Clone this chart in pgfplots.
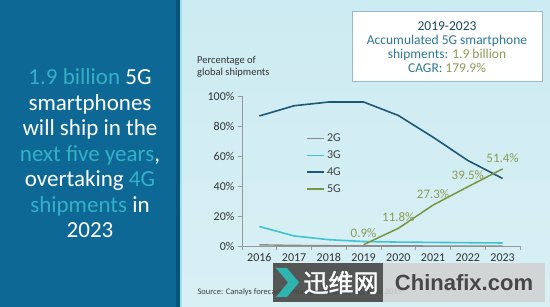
\documentclass[border=0pt]{standalone}
\usepackage{pgfplots}
\pgfplotsset{compat=1.18}
\usepackage{fontspec}
\setmainfont{Carlito}
\newfontfamily\cjk[FakeBold=1.5]{Noto Sans CJK SC}
\newfontfamily\wmfont{Liberation Sans}
\definecolor{panel}{HTML}{0D6896}
\definecolor{hl}{HTML}{34B0C6}
\definecolor{c2g}{HTML}{8C8C8C}
\definecolor{c3g}{HTML}{3FC3D0}
\definecolor{c4g}{HTML}{1E5878}
\definecolor{c5g}{HTML}{7A9444}
\definecolor{lab5}{HTML}{8A9B56}
\definecolor{boxtxt}{HTML}{2E7898}
\definecolor{bgtop}{HTML}{CDEBF2}
\definecolor{bgbot}{HTML}{D8F0F4}
\definecolor{chev}{HTML}{2FB5B0}
\begin{document}
\begin{tikzpicture}[x=1pt,y=1pt]
\useasboundingbox (0,0) rectangle (550,307);
\shade[top color=bgtop, middle color=white, bottom color=bgbot] (180,0) rectangle (550,307);
\fill[panel] (0,0) rectangle (178,307);
\fill[panel!80!black] (176,0) rectangle (180,307);
\fill[c3g!50!white] (180,0) rectangle (182,307);
\node[align=center, font=\fontsize{23}{25.5}\selectfont, text=white] at (90,153.5)
 {\textcolor{hl}{1.9 billion} 5G\\ smartphones\\ will ship in the\\ \textcolor{hl}{next five years},\\ overtaking \textcolor{hl}{4G}\\ \textcolor{hl}{shipments} in\\ 2023};
\node[anchor=north west, align=left, font=\fontsize{10.5}{12}\selectfont, text=black!80, inner sep=0pt] at (197,251) {Percentage of\\global shipments};
\draw[fill=white, draw=boxtxt!50, line width=0.8pt] (352,226) rectangle (542,296);
\node[align=center, font=\fontsize{13.5}{14}\selectfont, text=boxtxt] at (447,260)
 {\textcolor{c4g!80!black}{2019-2023}\\ Accumulated 5G smartphone\\ shipments: \textcolor{lab5}{1.9 billion}\\ CAGR: \textcolor{lab5}{179.9\%}};
\begin{axis}[
 at={(242pt,61pt)}, anchor=south west, scale only axis, width=278pt, height=150pt,
 xmin=-0.5, xmax=7.5, ymin=0, ymax=100,
 axis x line*=bottom, axis y line*=left,
 axis line style={-, draw=black!40, line width=0.8pt},
 xtick={-0.5,0.5,...,7.5}, x tick label as interval,
 xticklabels={2016,2017,2018,2019,2020,2021,2022,2023},
 ytick={0,20,40,60,80,100}, yticklabels={0\%,20\%,40\%,60\%,80\%,100\%},
 tick align=outside, major tick length=4pt, tick style={black!40, line width=0.8pt},
 tick label style={font=\fontsize{12}{14}\selectfont, text=black!80},
 clip=false,
 legend style={draw=none, fill=none, at={(0.22,0.775)}, anchor=north west,
   font=\fontsize{12}{14}\selectfont, text=black!75, row sep=3.5pt},
 legend cell align=left,
]
\addplot[c2g, line width=1.4pt] coordinates {(0,0.8) (1,0.4) (2,0.2) (3,0.1) (4,0.1) (5,0) (6,0) (7,0)};
\addlegendentry{2G}
\addplot[c3g, line width=1.6pt] coordinates {(0,13) (1,6.7) (2,4.2) (3,3.0) (4,2.6) (5,2.4) (6,2.2) (7,2.0)};
\addlegendentry{3G}
\addplot[c4g, line width=1.6pt] coordinates {(0,86.7) (1,93.5) (2,96) (3,96) (4,87) (5,72.5) (6,57) (7,45)};
\addlegendentry{4G}
\addplot[c5g, line width=1.5pt, point meta=explicit symbolic, nodes near coords,
  every node near coord/.style={font=\fontsize{13}{15}\selectfont, text=lab5, anchor=south, inner sep=1pt, yshift=5pt}]
  coordinates {(3,0.9) [0.9\%] (4,11.8) [11.8\%] (5,27.3) [27.3\%] (6,39.5) [39.5\%] (7,51.4) [51.4\%]};
\addlegendentry{5G}
\end{axis}
\node[anchor=west, font=\fontsize{8.5}{10}\selectfont, text=black!75] at (194,15) {Source: Canalys forecasts (smartphone analysis), June 2019};
\fill[black!72, opacity=0.9] (273,5) rectangle (383,44);
\fill[black!18, opacity=0.85] (383,5) rectangle (545,44);
\fill[chev] (276,39) -- (287,39) -- (299,24.5) -- (287,10) -- (276,10) -- (288,24.5) -- cycle;
\node[font=\cjk\fontsize{25}{27}\selectfont, text=white] at (341,24.5) {迅维网};
\node[font=\wmfont\bfseries\fontsize{22}{24}\selectfont, text=black!72] at (464,24.5) {Chinafix.com};
\end{tikzpicture}
\end{document}
